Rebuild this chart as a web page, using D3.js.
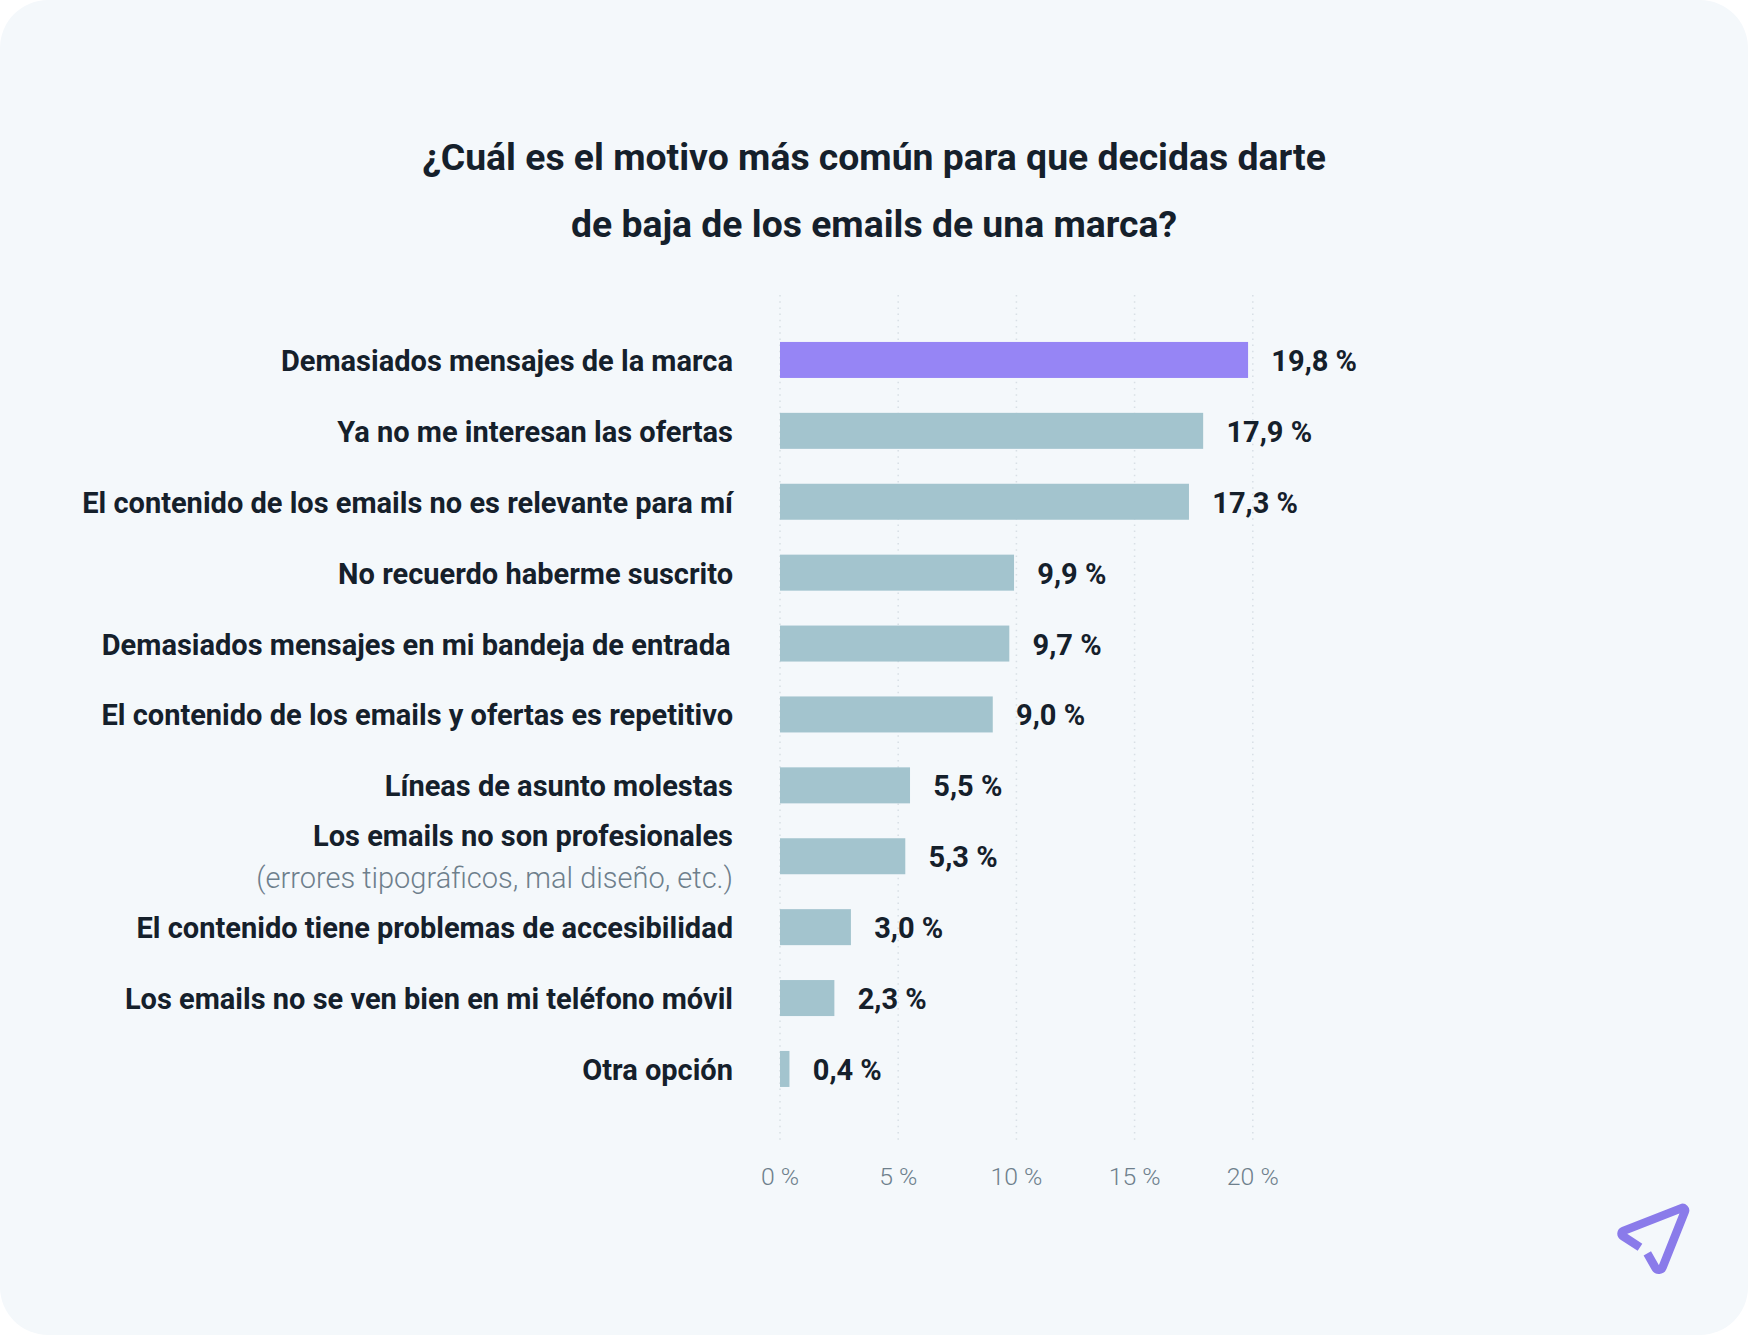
<!DOCTYPE html>
<html lang="es"><head><meta charset="utf-8">
<script src="https://cdn.jsdelivr.net/npm/d3@7"></script>
<style>html,body{margin:0;padding:0;background:#fff}svg{display:block}text{font-family:Roboto,sans-serif}</style>
</head><body><svg id="c" width="1748" height="1335"></svg>
<script>
const categories=["Demasiados mensajes de la marca","Ya no me interesan las ofertas","El contenido de los emails no es relevante para mí","No recuerdo haberme suscrito","Demasiados mensajes en mi bandeja de entrada","El contenido de los emails y ofertas es repetitivo","Líneas de asunto molestas","Los emails no son profesionales","El contenido tiene problemas de accesibilidad","Los emails no se ven bien en mi teléfono móvil","Otra opción"];
const values=[19.8,17.9,17.3,9.9,9.7,9.0,5.5,5.3,3.0,2.3,0.4];
const tickValues=[0,5,10,15,20];
const titleLines=["¿Cuál es el motivo más común para que decidas darte","de baja de los emails de una marca?"];
const subLabels={"Los emails no son profesionales":"(errores tipográficos, mal diseño, etc.)"};
const fmt=v=>v.toFixed(1).replace(".",",")+" %";
const svg=d3.select("#c");
svg.append("rect").attr("width",1748).attr("height",1335).attr("rx",48).attr("fill","#f4f8fb");
const x=d3.scaleLinear().domain([0,20]).range([780,1252.8]);
const y=d3.scaleBand().domain(categories).range([324.5,1104.4]).paddingInner(0.4922).paddingOuter(0.2461);
svg.append("g").selectAll("text").data(titleLines).join("text").attr("x",874).attr("y",(d,i)=>170+i*67)
 .attr("text-anchor","middle").attr("font-size",37.35).attr("font-weight",700).attr("fill","#15202b").text(d=>d);
svg.append("g").selectAll("line").data(tickValues).join("line").attr("x1",d=>x(d)).attr("x2",d=>x(d)).attr("y1",295).attr("y2",1141)
 .attr("stroke","#d8dfe5").attr("stroke-width",1.5).attr("stroke-dasharray","1.5 4.7");
const axis=d3.axisBottom(x).tickValues(tickValues).tickSize(0).tickPadding(0).tickFormat(d=>d+" %");
const ax=svg.append("g").attr("transform","translate(-0.5,1167)").call(axis);
ax.select(".domain").remove();
ax.selectAll("text").attr("font-size",24.8).attr("font-weight",300).attr("fill","#6e7f8c").attr("font-family","Roboto");
svg.append("g").selectAll("rect").data(values).join("rect").attr("x",x(0)).attr("y",(d,i)=>y(categories[i])).attr("width",d=>x(d)-x(0)).attr("height",y.bandwidth())
 .attr("fill",(d,i)=>i===0?"#9685f5":"#a3c4ce");
svg.append("g").selectAll("text").data(values).join("text").attr("x",d=>x(d)+23.3).attr("y",(d,i)=>y(categories[i])+y.bandwidth()/2+11)
 .attr("font-size",29).attr("font-weight",700).attr("fill","#15202b").text(fmt);
const lab=svg.append("g").selectAll("g").data(categories).join("g");
lab.append("text").attr("x",d=>d.endsWith("entrada")?730.5:733).attr("y",d=>y(d)+y.bandwidth()/2+(subLabels[d]?-10:11)).attr("text-anchor","end")
 .attr("font-size",29).attr("font-weight",700).attr("fill","#15202b").text(d=>d);
lab.filter(d=>subLabels[d]).append("text").attr("x",733).attr("y",d=>y(d)+y.bandwidth()/2+32).attr("text-anchor","end")
 .attr("font-size",29).attr("font-weight",300).attr("fill","#6e7f8c").text(d=>subLabels[d]);
const logo=d3.path();
logo.moveTo(1640,1247.3);
logo.arcTo(1618,1233,1687,1206,3);
logo.arcTo(1687,1206,1659.5,1275,2.5);
logo.arcTo(1659.5,1275,1647.3,1253.3,4);
logo.lineTo(1647.3,1253.3);
svg.append("path").attr("d",logo.toString())
 .attr("fill","none").attr("stroke","#8a7bea").attr("stroke-width",8.5).attr("stroke-linejoin","round");
</script></body></html>
